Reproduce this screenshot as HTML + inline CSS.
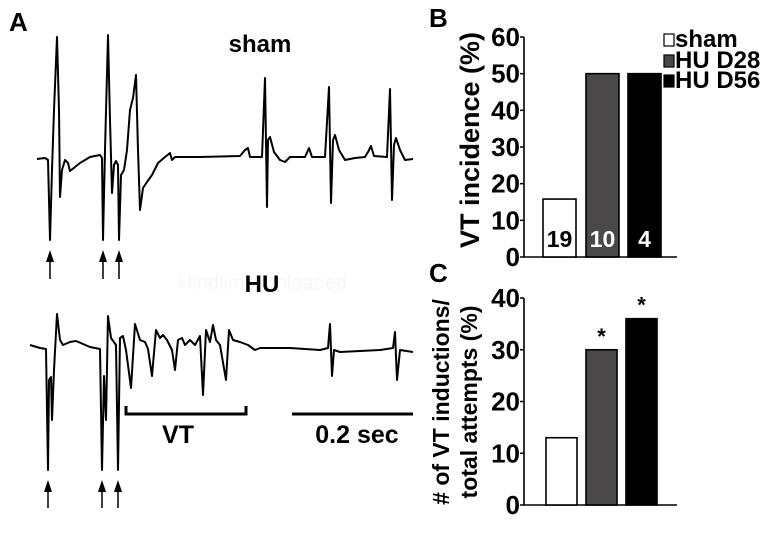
<!DOCTYPE html>
<html><head><meta charset="utf-8"><style>
html,body{margin:0;padding:0;background:#fff}
svg{display:block;font-family:"Liberation Sans",Arial,sans-serif;font-weight:bold}
</style></head><body>
<svg id="fig" width="778" height="536" viewBox="0 0 778 536">
<text x="9" y="31" font-size="26">A</text>
<text x="429" y="27" font-size="26">B</text>
<text x="429" y="282" font-size="26">C</text>
<text x="178" y="289" font-size="20" fill="#f7f7f7" font-weight="normal">Hindlimb Unloaded</text>
<text x="260" y="52" font-size="24" text-anchor="middle">sham</text>
<text x="262" y="292" font-size="24" text-anchor="middle">HU</text>
<polyline fill="none" stroke="#000" stroke-width="2" stroke-linejoin="round" points="37,159 45,158 48,160 50,240 52,170 54,110 57,37 59,110 60,197 62,170 65,160 68,163 70,171 75,167 80,163 90,157 100,155 102,158 103,240 105,150 108,35 110,120 112,193 114,165 116,161 118,165 119,240 121,175 124,170 127,150 130,110 133,98 136,75 138,150 140,210 143,188 147,182 152,175 158,163 165,157 170,153 172,160 175,157 200,157 240,156 245,150 248,148 250,157 262,157 265,78 267,207 268,140 270,137 274,152 280,160 285,162 290,157 305,157 309,148 312,157 325,157 329,87 331,203 333,140 335,135 339,150 345,160 355,158 365,157 368,152 371,146 374,156 387,157 390,89 392,200 394,145 396,138 400,150 405,160 413,159"/>
<polyline fill="none" stroke="#000" stroke-width="2" stroke-linejoin="round" points="30,345 40,348 46,349 48,470 49,380 51,377 52,420 54,370 57,314 60,340 63,345 70,342 76,341 90,347 100,349 102,470 104,376 106,420 108,316 111,338 116,345 118,470 120,338 123,336 126,350 131,388 135,324 140,340 145,342 148,349 152,376 156,330 160,338 163,335 167,340 172,350 175,370 178,340 182,338 185,345 190,340 195,345 200,336 203,395 206,330 210,342 213,325 216,340 220,345 226,380 229,330 233,340 240,342 248,345 255,350 260,348 290,348 320,350 328,348 330,324 332,376 334,350 340,352 360,351 380,350 393,348 395,332 397,380 400,350 413,352"/>
<g stroke="#000" stroke-width="1.5" fill="#000">
<line x1="50" y1="279" x2="50" y2="258"/><polygon points="46,262 50,250 54,262" stroke="none"/>
<line x1="103" y1="279" x2="103" y2="258"/><polygon points="99,262 103,250 107,262" stroke="none"/>
<line x1="119" y1="279" x2="119" y2="258"/><polygon points="115,262 119,250 123,262" stroke="none"/></g>
<g stroke="#000" stroke-width="1.5" fill="#000">
<line x1="48" y1="508" x2="48" y2="488"/><polygon points="44,492 48,480 52,492" stroke="none"/>
<line x1="102" y1="508" x2="102" y2="488"/><polygon points="98,492 102,480 106,492" stroke="none"/>
<line x1="118" y1="508" x2="118" y2="488"/><polygon points="114,492 118,480 122,492" stroke="none"/></g>
<path d="M126,406 V414 H246 V406" fill="none" stroke="#000" stroke-width="3"/>
<text x="178" y="443" font-size="25" text-anchor="middle">VT</text>
<line x1="292" y1="414" x2="413" y2="414" stroke="#000" stroke-width="3"/>
<text x="357" y="443" font-size="25" text-anchor="middle">0.2 sec</text>
<g id="chartB"></g>
<g id="chartC"></g>
<g font-size="24">
<g><rect x="664" y="34" width="10" height="12" fill="#fff" stroke="#000" stroke-width="1.2"/><text x="675" y="47">sham</text></g>
<g><rect x="664" y="55" width="10" height="12" fill="#4a4848" stroke="#000" stroke-width="1.2"/><text x="675" y="68">HU D28</text></g>
<g><rect x="664" y="75" width="10" height="12" fill="#000" stroke="#000" stroke-width="1.2"/><text x="675" y="88">HU D56</text></g>
</g>
</svg>
<script>
const categories = ["sham","HU D28","HU D56"];
const incidenceValues = [15.8, 50, 50];
const incidenceCounts = ["19","10","4"];
const incidenceTicks = [0,10,20,30,40,50,60];
const inductionValues = [13, 30, 36];
const inductionStars = ["", "*", "*"];
const inductionTicks = [0,10,20,30,40];
const fills = ["#fff","#4a4848","#000"];
const NS = "http://www.w3.org/2000/svg";
function mk(tag, attrs, parent){const e=document.createElementNS(NS,tag);for(const k in attrs)e.setAttribute(k,attrs[k]);parent.appendChild(e);return e;}
function drawChart(g, cfg){
  const y = v => cfg.y0 - (v - 0) / cfg.max * (cfg.y0 - cfg.yTop);
  const ax = mk("path",{d:`M${cfg.x0},${y(cfg.max)} V${cfg.y0} H${cfg.x1}`,fill:"none",stroke:"#000","stroke-width":1.6},g);
  
  
  cfg.ticks.forEach(t=>{
    const tl = mk("line",{x1:cfg.x0-4,x2:cfg.x0,y1:y(t),y2:y(t),stroke:"#000","stroke-width":1.5},g);
    
    
    const tx = mk("text",{x:cfg.x0-4,y:y(t)+9,"font-size":26,"text-anchor":"end"},g);
    tx.textContent = t;
    
    
  });
  cfg.values.forEach((v,i)=>{
    const bx = cfg.barX[i];
    const r = mk("rect",{x:bx,y:y(v),width:cfg.bw,height:cfg.y0-y(v),fill:fills[i],stroke:"#000","stroke-width":1.6},g);
    
    
    if(cfg.labels && cfg.labels[i]){
      const t = mk("text",{x:bx+cfg.bw/2,y:cfg.y0-10,"font-size":23,"text-anchor":"middle",fill:i===0?"#000":"#fff"},g);
      t.textContent = cfg.labels[i];
      
      
    }
    if(cfg.stars && cfg.stars[i]){
      const t = mk("text",{x:bx+cfg.bw/2,y:y(v)-6,"font-size":22,"text-anchor":"middle"},g);
      t.textContent = cfg.stars[i];
      
      
    }
  });
  cfg.ytitle.forEach((s,j)=>{
    const t = mk("text",{x:0,y:0,"font-size":cfg.titleSize,"text-anchor":"middle",transform:`translate(${cfg.titleX[j]},${cfg.titleY}) rotate(-90)`},g);
    t.textContent = s;
    
    
  });
}
drawChart(document.getElementById("chartB"),{id:"incidence",x0:524,x1:677,y0:257,yTop:37,max:60,ticks:incidenceTicks,values:incidenceValues,labels:incidenceCounts,barX:[543,586,628],bw:33,ytitle:["VT incidence (%)"],titleX:[479],titleY:140,titleSize:27});
drawChart(document.getElementById("chartC"),{id:"inductions",x0:524,x1:677,y0:505,yTop:298,max:40,ticks:inductionTicks,values:inductionValues,stars:inductionStars,barX:[546,586,626],bw:31,ytitle:["# of VT inductions/","total attempts (%)"],titleX:[449,477],titleY:402,titleSize:23});
</script>
</body></html>
